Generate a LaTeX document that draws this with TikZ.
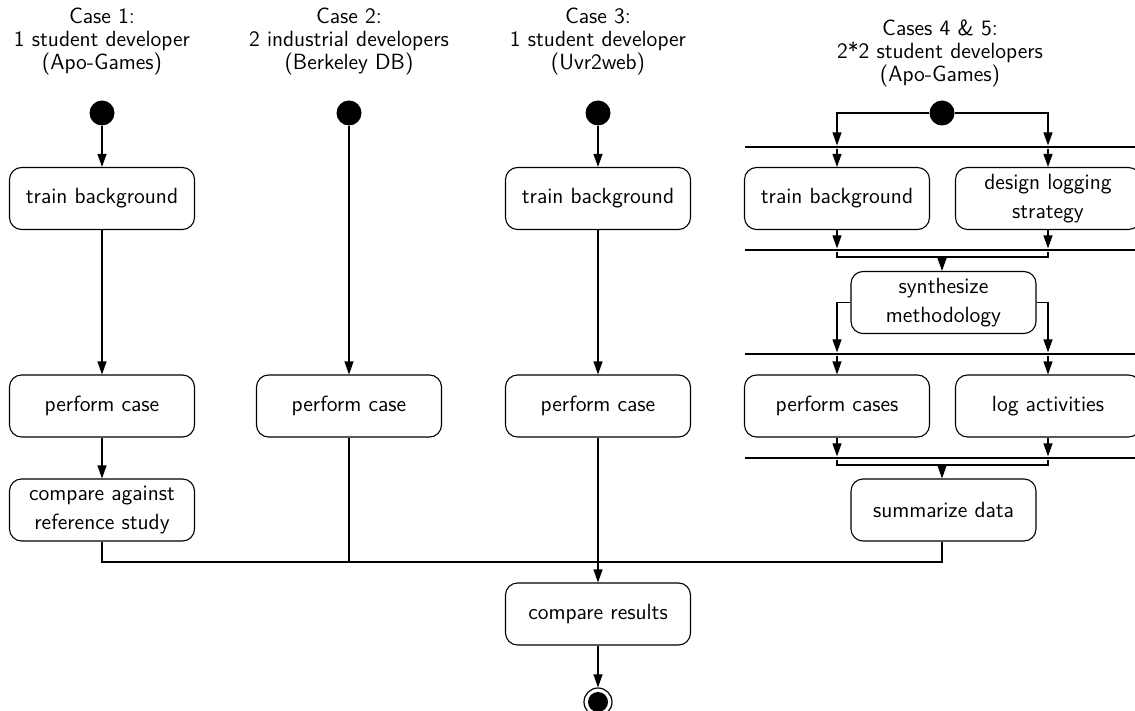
\documentclass[tikz,border=0pt]{standalone}
\usetikzlibrary{arrows.meta}
\begin{document}
\begin{tikzpicture}[x=0.5pt,y=-0.5pt,
  font=\sffamily\fontsize{11}{11.5}\selectfont,
  act/.style={draw,line width=0.55pt,rounded corners=6pt,minimum width=92.5pt,minimum height=31pt,align=center,inner sep=2pt,font=\sffamily\fontsize{11}{14.5}\selectfont},
  hdr/.style={align=center,inner sep=0pt},
  startnode/.style={circle,fill=black,minimum size=12.5pt,inner sep=0pt},
  bar/.style={fill=black,minimum width=195pt,minimum height=1.2pt,inner sep=0pt},
  conn/.style={line width=0.55pt},
  arr/.style={conn,-{Triangle[length=6.5pt,width=4.5pt]}}]
\useasboundingbox (0,0) rectangle (1135,711);
% headers
\node[hdr] (h1) at (102,42) {Case 1:\\1 student developer\\(Apo-Games)};
\node[hdr] (h2) at (349,42) {Case 2:\\2 industrial developers\\(Berkeley DB)};
\node[hdr] (h3) at (598,42) {Case 3:\\1 student developer\\(Uvr2web)};
\node[hdr] (h4) at (940,53.5) {Cases 4 \& 5:\\2*2 student developers\\(Apo-Games)};
% start nodes
\node[startnode] (s1) at (102,113) {};
\node[startnode] (s2) at (349,113) {};
\node[startnode] (s3) at (598,113) {};
\node[startnode] (s4) at (942,113) {};
% column 1
\node[act] (tb1) at (102,198.5) {train background};
\node[act] (pc1) at (102,406) {perform case};
\node[act] (cmp1) at (102,510) {compare against\\reference study};
% column 2
\node[act] (pc2) at (349,406) {perform case};
% column 3
\node[act] (tb3) at (598,198.5) {train background};
\node[act] (pc3) at (598,406) {perform case};
% column 4
\node[act] (tb4) at (837,198.5) {train background};
\node[act] (dl4) at (1048,198.5) {design logging\\strategy};
\node[act] (syn) at (943.5,302.5) {synthesize\\methodology};
\node[act] (pcs) at (837,406) {perform cases};
\node[act] (la) at (1048,406) {log activities};
\node[act] (sum) at (943.5,510) {summarize data};
% bars
\node[bar] (f1) at (940,147) {};
\node[bar] (j1) at (940,250) {};
\node[bar] (f2) at (940,354) {};
\node[bar] (j2) at (940,458) {};
\coordinate (j1m) at (942,257);
\coordinate (j2m) at (942,465);
% final
\node[act] (cr) at (598,614) {compare results};
\node[circle,draw,line width=0.6pt,minimum size=14pt,inner sep=0pt] (fin) at (598,702) {};
\node[circle,fill=black,minimum size=10pt,inner sep=0pt] (fini) at (fin.center) {};
\coordinate (m) at (598,562);
% connectors col 1-3
\draw[arr] (s1) -- (tb1);
\draw[arr] (tb1) -- (pc1);
\draw[arr] (pc1) -- (cmp1);
\draw[arr] (s2) -- (pc2);
\draw[arr] (s3) -- (tb3);
\draw[arr] (tb3) -- (pc3);
\draw[conn] (cmp1.south) |- (m);
\draw[conn] (pc2.south) -- (pc2.south |- m);
\draw[conn] (sum.south -| s4) |- (m);
\draw[arr] (pc3) -- (cr);
\draw[arr] (cr) -- (fin);
% column 4
\draw[arr] (s4.west) -| (tb4.north |- f1.north);
\draw[arr] (s4.east) -| (dl4.north |- f1.north);
\draw[arr] (tb4.north |- f1.south) -- (tb4.north);
\draw[arr] (dl4.north |- f1.south) -- (dl4.north);
\draw[arr] (tb4.south) -- (tb4.south |- j1.north);
\draw[arr] (dl4.south) -- (dl4.south |- j1.north);
\draw[conn] (tb4.south |- j1.south) |- (j1m) -| (dl4.south |- j1.south);
\draw[arr] (j1m) -- (j1m |- syn.north);
\draw[arr] (syn.west) -| (pcs.north |- f2.north);
\draw[arr] (syn.east) -| (la.north |- f2.north);
\draw[arr] (pcs.north |- f2.south) -- (pcs.north);
\draw[arr] (la.north |- f2.south) -- (la.north);
\draw[arr] (pcs.south) -- (pcs.south |- j2.north);
\draw[arr] (la.south) -- (la.south |- j2.north);
\draw[conn] (pcs.south |- j2.south) |- (j2m) -| (la.south |- j2.south);
\draw[arr] (j2m) -- (j2m |- sum.north);
\end{tikzpicture}
\end{document}
